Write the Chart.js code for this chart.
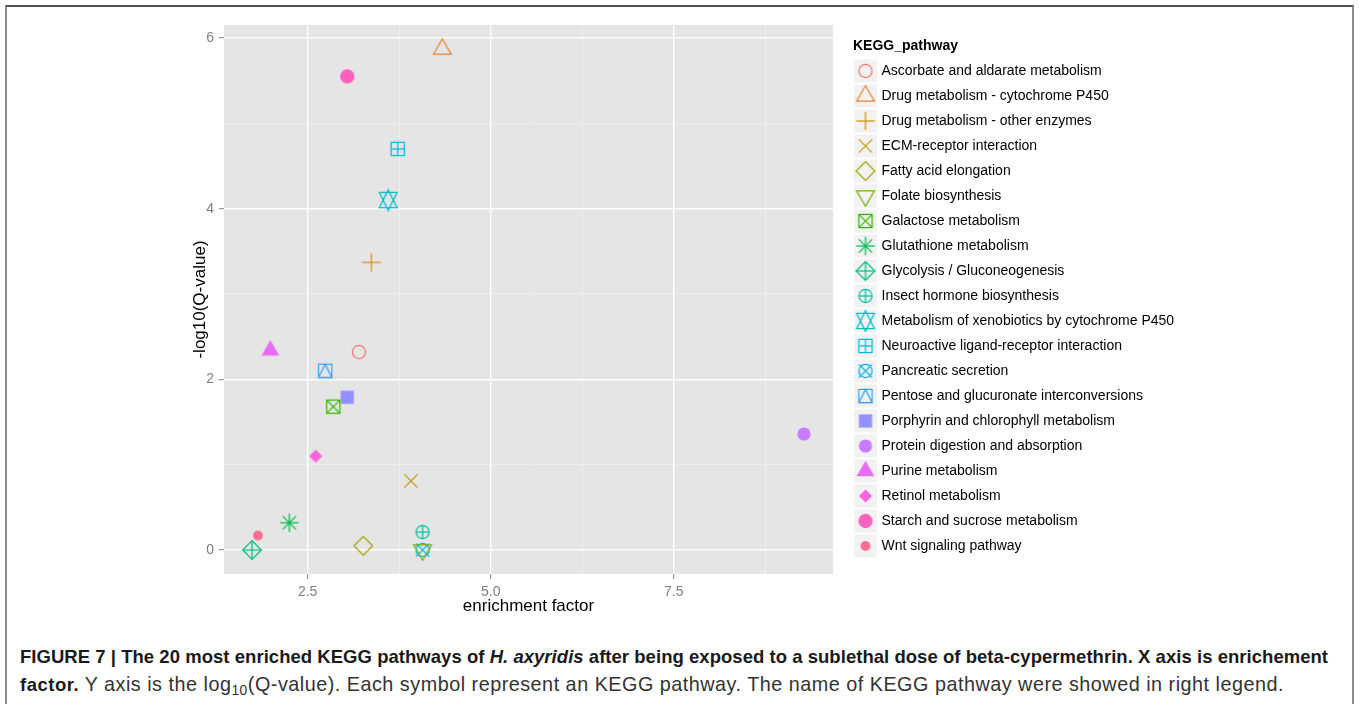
<!DOCTYPE html>
<html>
<head>
<meta charset="utf-8">
<script src="https://cdn.jsdelivr.net/npm/chart.js@4/dist/chart.umd.min.js"></script>
<style>
  html, body { margin: 0; padding: 0; background: #fff; }
  body { width: 1359px; height: 704px; position: relative; overflow: hidden; font-family: "Liberation Sans", Arial, sans-serif; }
  #frame { position: absolute; left: 5px; top: 5px; width: 1349px; height: 720px; box-sizing: border-box;
           border-top: 2px solid #505050; border-left: 2px solid #8c8c8c; border-right: 2px solid #8c8c8c; }
  #wrap { position: absolute; left: 0; top: 0; width: 1359px; height: 620px; }
  .cap { position: absolute; left: 20px; white-space: nowrap; font-size: 18.5px; line-height: 21px; color: #333; }
  .cap b { color: #1a1a1a; font-size: 18.5px; }
  #cap1 { top: 646px; }
  #cap2 { top: 674px; font-size: 19.8px; }
  sub { font-size: 70%; vertical-align: -0.3em; line-height: 0; }
</style>
</head>
<body>
<div id="frame"></div>
<div id="wrap"><canvas id="chart" width="1359" height="620"></canvas></div>
<div class="cap" id="cap1"><b>FIGURE 7 | The 20 most enriched KEGG pathways of <i>H. axyridis</i> after being exposed to a sublethal dose of beta-cypermethrin. X axis is enrichement</b></div>
<div class="cap" id="cap2"><b>factor.</b> Y axis is the log<sub>10</sub>(Q-value). Each symbol represent an KEGG pathway. The name of KEGG pathway were showed in right legend.</div>
<script>
// KEGG pathways (legend order) and their values
const pathways = [
  'Ascorbate and aldarate metabolism',
  'Drug metabolism - cytochrome P450',
  'Drug metabolism - other enzymes',
  'ECM-receptor interaction',
  'Fatty acid elongation',
  'Folate biosynthesis',
  'Galactose metabolism',
  'Glutathione metabolism',
  'Glycolysis / Gluconeogenesis',
  'Insect hormone biosynthesis',
  'Metabolism of xenobiotics by cytochrome P450',
  'Neuroactive ligand-receptor interaction',
  'Pancreatic secretion',
  'Pentose and glucuronate interconversions',
  'Porphyrin and chlorophyll metabolism',
  'Protein digestion and absorption',
  'Purine metabolism',
  'Retinol metabolism',
  'Starch and sucrose metabolism',
  'Wnt signaling pathway'
];
const enrichment = [3.20, 4.34, 3.37, 3.91, 3.26, 4.07, 2.85, 2.25, 1.74, 4.07, 3.60, 3.73, 4.07, 2.74, 3.04, 9.28, 1.99, 2.61, 3.04, 1.82];
const negLog10Q  = [2.32, 5.87, 3.37, 0.81, 0.05, 0.00, 1.68, 0.32, 0.00, 0.21, 4.10, 4.70, 0.00, 2.10, 1.79, 1.36, 2.34, 1.10, 5.55, 0.17];

// ggplot default hue palette and R pch shapes 1..20
const colours = ['#F8766D', '#EA8331', '#D89000', '#C09B00', '#A3A500', '#7CAE00', '#39B600', '#00BB4E', '#00BF7D', '#00C1A3',
                 '#00BFC4', '#00BAE0', '#00B0F6', '#35A2FF', '#9590FF', '#C77CFF', '#E76BF3', '#FA62DB', '#FF62BC', '#FF6C91'];
const shapes = [1, 2, 3, 4, 5, 6, 7, 8, 9, 10, 11, 12, 13, 14, 15, 16, 17, 18, 19, 20];

// axis ticks
const xMajor = [2.5, 5.0, 7.5];
const xMinor = [3.75, 6.25, 8.75];
const xTickLabels = ['2.5', '5.0', '7.5'];
const yMajor = [0, 2, 4, 6];
const yMinor = [1, 3, 5];
const yTickLabels = ['0', '2', '4', '6'];

const FONT = '"Liberation Sans", Arial, sans-serif';

// draw an R-style plotting symbol onto a small canvas, used as pointStyle
function makeSymbol(shape, colour) {
  const size = 28, c = document.createElement('canvas');
  c.width = size; c.height = size;
  const g = c.getContext('2d');
  const x = size / 2, y = size / 2, r = 6.6;
  const s2 = Math.SQRT2 * r;
  g.strokeStyle = colour; g.fillStyle = colour; g.lineWidth = 1.25;

  const line = (x1, y1, x2, y2) => { g.beginPath(); g.moveTo(x1, y1); g.lineTo(x2, y2); g.stroke(); };
  const poly = (pts, fill) => {
    g.beginPath(); g.moveTo(pts[0][0], pts[0][1]);
    pts.slice(1).forEach(p => g.lineTo(p[0], p[1]));
    g.closePath(); fill ? g.fill() : g.stroke();
  };
  const circle = (rad, fill) => { g.beginPath(); g.arc(x, y, rad, 0, Math.PI * 2); fill ? g.fill() : g.stroke(); };
  const plus = (h) => { line(x - h, y, x + h, y); line(x, y - h, x, y + h); };
  const cross = (h) => { line(x - h, y - h, x + h, y + h); line(x - h, y + h, x + h, y - h); };
  const tri = (up, fill) => {
    const R = 1.5551 * r, xc = 1.3468 * r, yc = 0.7776 * r, d = up ? 1 : -1;
    poly([[x, y - d * R], [x + xc, y + d * yc], [x - xc, y + d * yc]], fill);
  };
  const diamond = (h, fill) => poly([[x - h, y], [x, y - h], [x + h, y], [x, y + h]], fill);

  switch (shape) {
    case 1: circle(r); break;
    case 2: tri(true); break;
    case 3: plus(s2); break;
    case 4: cross(r); break;
    case 5: diamond(s2); break;
    case 6: tri(false); break;
    case 7: g.strokeRect(x - r, y - r, 2 * r, 2 * r); cross(r); break;
    case 8: cross(r); plus(s2); break;
    case 9: diamond(s2); plus(s2); break;
    case 10: circle(r); plus(r); break;
    case 11: {
      const R = 1.5551 * r, xc = 1.3468 * r, yc = 0.5 * (0.7776 * r + R);
      poly([[x, y + R], [x + xc, y - yc], [x - xc, y - yc]]);
      poly([[x, y - R], [x + xc, y + yc], [x - xc, y + yc]]);
      break;
    }
    case 12: g.strokeRect(x - r, y - r, 2 * r, 2 * r); plus(r); break;
    case 13: circle(r); cross(r); break;
    case 14: g.strokeRect(x - r, y - r, 2 * r, 2 * r); poly([[x, y - r], [x + r, y + r], [x - r, y + r]]); break;
    case 15: g.fillRect(x - r, y - r, 2 * r, 2 * r); break;
    case 16: circle(r, true); break;
    case 17: tri(true, true); break;
    case 18: diamond(r, true); break;
    case 19: circle(r + 0.6, true); break;
    case 20: circle(r * 2 / 3 + 0.5, true); break;
  }
  return c;
}

const symbols = shapes.map((s, i) => makeSymbol(s, colours[i]));

const panelBackground = {
  id: 'panelBackground',
  beforeDraw(chart) {
    const { ctx, chartArea: a } = chart;
    ctx.save();
    ctx.fillStyle = '#E5E5E5';
    ctx.fillRect(a.left, a.top, a.right - a.left, a.bottom - a.top);
    ctx.restore();
  }
};

// ggplot-like legend with grey key boxes
const keggLegend = {
  id: 'keggLegend',
  afterDraw(chart) {
    const ctx = chart.ctx;
    const left = 853, titleY = 46, firstY = 71, step = 25;
    ctx.save();
    ctx.textBaseline = 'middle';
    ctx.textAlign = 'left';
    ctx.fillStyle = '#000';
    ctx.font = 'bold 14px ' + FONT;
    ctx.fillText('KEGG_pathway', left, titleY);
    ctx.font = '14px ' + FONT;
    chart.data.datasets.forEach((ds, i) => {
      const cy = firstY + i * step;
      ctx.fillStyle = '#F2F2F2';
      ctx.fillRect(left + 1, cy - 11.5, 23, 23);
      const img = ds.pointStyle;
      ctx.drawImage(img, left + 12.5 - img.width / 2, cy - img.height / 2);
      ctx.fillStyle = '#000';
      ctx.fillText(ds.label, left + 28.5, cy + 0.5);
    });
    ctx.restore();
  }
};

const gridColour = (major) => (c) => major.includes(c.tick.value) ? '#FFFFFF' : '#F2F2F2';
const gridWidth = (major) => (c) => major.includes(c.tick.value) ? 1.4 : 0.7;
const tickColour = (major) => (c) => major.includes(c.tick.value) ? '#7F7F7F' : 'rgba(0,0,0,0)';

new Chart(document.getElementById('chart'), {
  type: 'scatter',
  data: {
    datasets: pathways.map((name, i) => ({
      label: name,
      data: [{ x: enrichment[i], y: negLog10Q[i] }],
      pointStyle: symbols[i],
      pointRadius: 6,
      borderColor: colours[i],
      backgroundColor: colours[i]
    }))
  },
  options: {
    responsive: false,
    animation: false,
    events: [],
    layout: { padding: { left: 185, top: 25, right: 526, bottom: 0 } },
    scales: {
      x: {
        type: 'linear',
        min: 1.357,
        max: 9.676,
        border: { display: false },
        afterBuildTicks: (scale) => { scale.ticks = [...xMajor, ...xMinor].sort((a, b) => a - b).map(v => ({ value: v })); },
        afterFit: (scale) => { scale.height = 46; },
        grid: { color: gridColour(xMajor), lineWidth: gridWidth(xMajor), tickColor: tickColour(xMajor), tickLength: 5, tickWidth: 1 },
        ticks: {
          color: '#7F7F7F', padding: 5, maxRotation: 0, autoSkip: false,
          font: { size: 14, family: FONT },
          callback: (v) => { const k = xMajor.indexOf(v); return k >= 0 ? xTickLabels[k] : ''; }
        },
        title: { display: true, text: 'enrichment factor', color: '#000', font: { size: 17, family: FONT }, padding: { top: 0, bottom: 3 } }
      },
      y: {
        type: 'linear',
        min: -0.281,
        max: 6.152,
        border: { display: false },
        afterBuildTicks: (scale) => { scale.ticks = [...yMajor, ...yMinor].sort((a, b) => a - b).map(v => ({ value: v })); },
        afterFit: (scale) => { scale.width = 39; },
        grid: { color: gridColour(yMajor), lineWidth: gridWidth(yMajor), tickColor: tickColour(yMajor), tickLength: 5, tickWidth: 1 },
        ticks: {
          color: '#7F7F7F', padding: 5, autoSkip: false,
          font: { size: 14, family: FONT },
          callback: (v) => { const k = yMajor.indexOf(v); return k >= 0 ? yTickLabels[k] : ''; }
        },
        title: { display: true, text: '-log10(Q-value)', color: '#000', font: { size: 17, family: FONT }, padding: { top: 5, bottom: 0 } }
      }
    },
    plugins: {
      legend: { display: false },
      tooltip: { enabled: false }
    }
  },
  plugins: [panelBackground, keggLegend]
});

// stretch the two caption lines to the widths they have in the figure
[['cap1', 1308], ['cap2', 1264]].forEach(([id, target]) => {
  const el = document.getElementById(id);
  const w = el.getBoundingClientRect().width;
  const n = el.textContent.length;
  el.style.letterSpacing = ((target - w) / n).toFixed(3) + 'px';
});
</script>
</body>
</html>
